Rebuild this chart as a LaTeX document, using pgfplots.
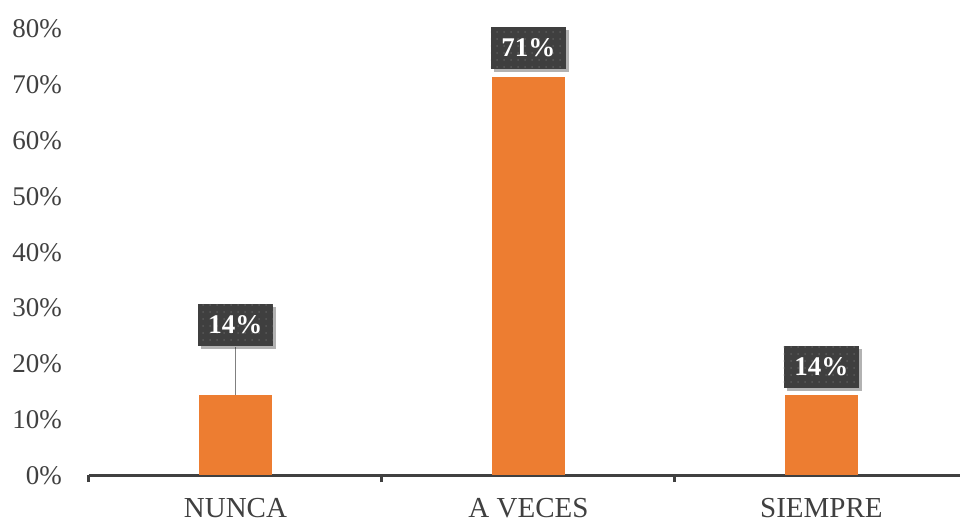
\documentclass[border=0pt]{standalone}
\usepackage{fontspec}
\setmainfont{Liberation Serif}
\usepackage{pgfplots}
\pgfplotsset{compat=1.18}
\usetikzlibrary{patterns.meta,shadows}
\definecolor{barorange}{HTML}{ED7D31}
\definecolor{axisgray}{HTML}{404040}
\definecolor{labelbg}{HTML}{3F3F3F}
\definecolor{dotgray}{HTML}{595959}
\tikzset{datalabel/.style={
  drop shadow={shadow xshift=3pt, shadow yshift=-3pt, fill=black, opacity=0.3},
  preaction={fill=labelbg},
  pattern={Dots[distance=7pt,radius=1pt]}, pattern color=dotgray,
  text=white, font=\fontsize{27}{30}\selectfont\bfseries,
  inner sep=0pt, minimum width=75pt, minimum height=42pt, anchor=south}}
\begin{document}
\begin{tikzpicture}
\begin{axis}[
  scale only axis, width=871pt, height=446pt,
  /pgf/number format/assume math mode=true,
  ybar, bar width=73pt, bar shift=0pt,
  xmin=-0.5, xmax=2.473, ymin=0, ymax=80,
  enlargelimits=false, clip=false,
  axis x line*=bottom, axis y line*=left,
  y axis line style={draw=none},
  x axis line style={draw=axisgray, line width=3pt, -},
  xtick={0,1,2}, xticklabels={NUNCA, A VECES, SIEMPRE},
  minor xtick={-0.5,0.5,1.5,2.5},
  major tick length=0pt, minor tick length=7pt, tick align=outside,
  minor tick style={draw=axisgray, line width=3pt},
  xticklabel style={anchor=base, yshift=-42pt, font=\fontsize{29}{32}\selectfont, text=axisgray},
  ytick={0,10,...,80},
  yticklabel={\pgfmathprintnumber{\tick}\%},
  yticklabel style={anchor=base east, inner sep=0pt, xshift=-27pt, yshift=-9pt, font=\fontsize{27}{30}\selectfont, text=axisgray},
  nodes near coords={\pgfmathprintnumber[fixed,precision=0]{\pgfplotspointmeta}\%},
]
\addplot[fill=barorange, draw=none, every node near coord/.append style={datalabel, yshift=49.3pt}] coordinates {(0,14.3)};
\addplot[fill=barorange, draw=none, every node near coord/.append style={datalabel, yshift=8pt}] coordinates {(1,71.4)};
\addplot[fill=barorange, draw=none, every node near coord/.append style={datalabel, yshift=7.3pt}] coordinates {(2,14.3)};
\draw[color=gray, line width=1.5pt] (axis cs:0,14.3) -- (axis cs:0,22.96);
\end{axis}
\pgfresetboundingbox
\useasboundingbox (-89pt,-47pt) rectangle (871pt,475pt);
\end{tikzpicture}
\end{document}
